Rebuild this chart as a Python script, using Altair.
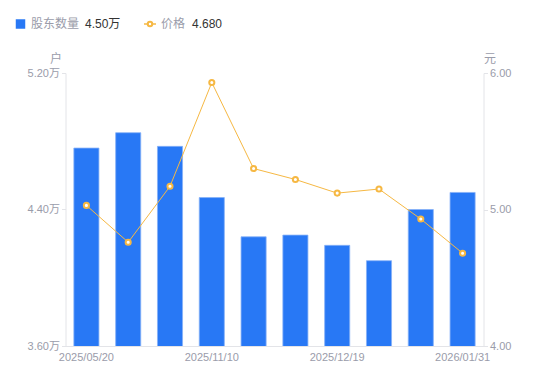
import altair as alt
import pandas as pd

dates = ["2025/05/20", "2025/06/30", "2025/09/30", "2025/11/10", "2025/11/20",
         "2025/11/30", "2025/12/19", "2025/12/31", "2026/01/20", "2026/01/31"]
holders = [4.76, 4.85, 4.77, 4.47, 4.24, 4.25, 4.19, 4.10, 4.40, 4.50]  # 万户
prices = [5.03, 4.76, 5.17, 5.93, 5.30, 5.22, 5.12, 5.15, 4.93, 4.68]
shown_dates = ["2025/05/20", "2025/11/10", "2025/12/19", "2026/01/31"]

FONT = "Liberation Sans, Noto Sans CJK SC, sans-serif"
BLUE = "#2878F5"
ORANGE = "#F6B843"
GRAY = "#9A9CAA"
AXIS_LINE = "#E3E4E8"

df = pd.DataFrame({"date": dates, "holders": holders, "price": prices})

x = alt.X("date:N", sort=dates,
          scale=alt.Scale(paddingInner=0.4, paddingOuter=0.2),
          axis=alt.Axis(values=shown_dates, labelAngle=0, ticks=False, domainColor=AXIS_LINE,
                        labelColor=GRAY, labelFontSize=11, labelPadding=5, title=None,
                        labelFont=FONT, grid=False, orient="bottom"))

bars = alt.Chart(df).mark_bar(color=BLUE, clip=True, stroke="#86B1F7", strokeWidth=0.8).encode(
    x=x,
    y=alt.Y("holders:Q", scale=alt.Scale(domain=[3.6, 5.2], nice=False, zero=False),
            axis=alt.Axis(values=[3.6, 4.4, 5.2], labelExpr="format(datum.value, '.2f') + '万'",
                          title="户", titleAngle=0, titleX=-4, titleY=-8, titleAlign="right",
                          titleBaseline="bottom", titleColor=GRAY, titleFontWeight="normal",
                          titleFontSize=12, titleFont=FONT,
                          labelColor=GRAY, labelFontSize=11, labelFont=FONT, tickSize=4,
                          tickColor=AXIS_LINE, domainColor=AXIS_LINE, labelPadding=2, grid=False)),
)

line = alt.Chart(df).mark_line(
    color=ORANGE, strokeWidth=1,
    point=alt.OverlayMarkDef(filled=True, fill="white", stroke=ORANGE, strokeWidth=2, size=26, opacity=1),
).encode(
    x=x,
    y=alt.Y("price:Q", scale=alt.Scale(domain=[4.0, 6.0], nice=False, zero=False),
            axis=alt.Axis(values=[4.0, 5.0, 6.0], format=".2f", orient="right",
                          title="元", titleAngle=0, titleX=6, titleY=-8, titleAlign="center",
                          titleBaseline="bottom", titleColor=GRAY, titleFontWeight="normal",
                          titleFontSize=12, titleFont=FONT,
                          labelColor=GRAY, labelFontSize=11, labelFont=FONT, tickSize=4,
                          tickColor=AXIS_LINE, domainColor=AXIS_LINE, labelPadding=2, grid=False)),
)

one = alt.Data(values=[{"k": 1}])
LY = -49
legend = [
    alt.Chart(one).mark_square(color=BLUE, size=90, opacity=1).encode(
        x=alt.value(-45), y=alt.value(LY)),
    alt.Chart(one).mark_text(align="left", baseline="middle", fontSize=12, color=GRAY, font=FONT).encode(
        x=alt.value(-34.5), y=alt.value(LY), text=alt.value("股东数量")),
    alt.Chart(one).mark_text(align="left", baseline="middle", fontSize=12, color="#333333", font=FONT).encode(
        x=alt.value(19.5), y=alt.value(LY), text=alt.value(f"{holders[-1]:.2f}万")),
    alt.Chart(one).mark_rule(color=ORANGE, strokeWidth=1.5).encode(
        x=alt.value(78.5), x2=alt.value(90.5), y=alt.value(LY)),
    alt.Chart(one).mark_point(filled=True, fill="white", stroke=ORANGE, strokeWidth=2, size=20, opacity=1).encode(
        x=alt.value(84.5), y=alt.value(LY)),
    alt.Chart(one).mark_text(align="left", baseline="middle", fontSize=12, color=GRAY, font=FONT).encode(
        x=alt.value(95.5), y=alt.value(LY), text=alt.value("价格")),
    alt.Chart(one).mark_text(align="left", baseline="middle", fontSize=12, color="#333333", font=FONT).encode(
        x=alt.value(126.5), y=alt.value(LY), text=alt.value(f"{prices[-1]:.3f}")),
]

chart = alt.layer(bars, line, *legend).resolve_scale(y="independent").properties(
    width=418, height=273,
    autosize=alt.AutoSizeParams(type="none"),
    padding={"left": 57.5, "top": 65, "right": 50, "bottom": 40},
).configure(font=FONT).configure_view(stroke=None)

chart.save("out.html", embed_options={"renderer": "svg", "actions": False})
